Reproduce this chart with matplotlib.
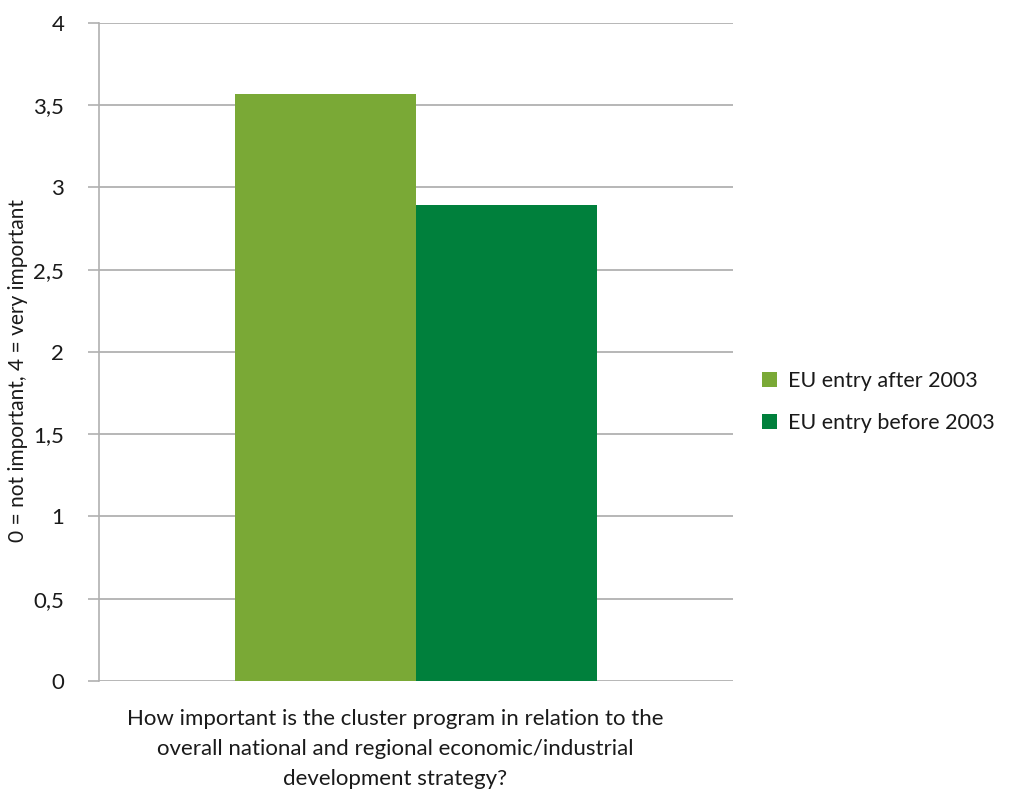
import matplotlib.pyplot as plt
import numpy as np

# data
series = ['EU entry after 2003', 'EU entry before 2003']
values = [3.57, 2.89]
colors = ['#7AA936', '#00803C']
category = ('How important is the cluster program in relation to the\n'
            'overall national and regional economic/industrial\n'
            'development strategy?')
yticks = [0, 0.5, 1, 1.5, 2, 2.5, 3, 3.5, 4]
ylabels = ['0', '0,5', '1', '1,5', '2', '2,5', '3', '3,5', '4']

plt.rcParams['font.family'] = ['Lato', 'DejaVu Sans']

fig = plt.figure(figsize=(10.1, 7.89), dpi=100)
ax = fig.add_axes([0.098, 0.137, 0.628, 0.834])

w = 0.2855
for i, (s, v, c) in enumerate(zip(series, values, colors)):
    ax.bar((i - 0.5) * w, v, width=w, color=c, label=s, zorder=3)

ax.set_xlim(-0.5, 0.5)
ax.set_ylim(0, 4)
ax.set_yticks(yticks)
ax.set_yticklabels(ylabels, fontsize=16, color='#1a1a1a')
ax.yaxis.grid(True, color='#aaaaaa', linewidth=1.2, zorder=0)
ax.set_xticks([])
for sp in ['top', 'right', 'bottom']:
    ax.spines[sp].set_visible(False)
ax.spines['left'].set_color('#b0b0b0')
ax.spines['left'].set_linewidth(1.2)
ax.tick_params(axis='y', length=8, color='#b0b0b0', width=1.2, pad=17)

# y axis title placed by hand so it stays inside the figure
fig.text(0.018, 0.531, '0 = not important, 4 = very important', rotation=90,
         ha='center', va='center', fontsize=15, color='#1a1a1a')
fig.text(0.391, 0.0, category, ha='center', va='bottom', fontsize=16,
         color='#1a1a1a', linespacing=1.62)

ax.legend(loc='center left', bbox_to_anchor=(1.015, 0.424), frameon=False,
          fontsize=15.5, handlelength=0.7, handleheight=0.7, handletextpad=0.5,
          labelspacing=1.0, labelcolor='#1a1a1a')

fig.savefig('out.png', dpi=100)
